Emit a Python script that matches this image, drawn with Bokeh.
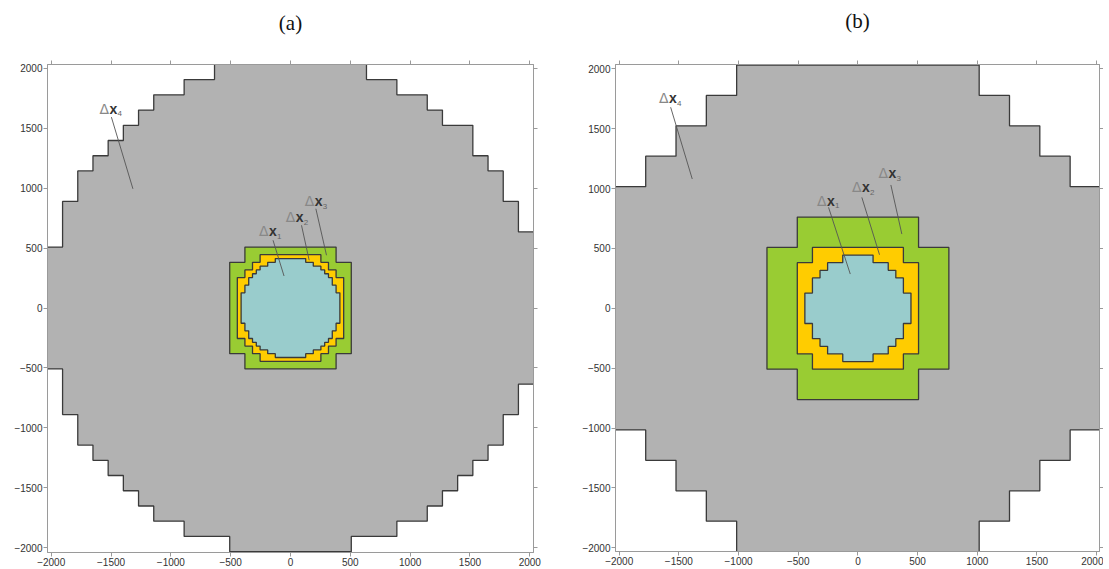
from bokeh.plotting import figure
from bokeh.models import LinearAxis, FixedTicker, Range1d
from bokeh.layouts import row
from bokeh.embed import file_html
from bokeh.resources import INLINE
from bokeh.core.properties import value

# ---------------- data ----------------
TICKS = [-2000, -1500, -1000, -500, 0, 500, 1000, 1500, 2000]

# staircase corners (x_end, height) in cell units, per quadrant (|x|, |y|)
A_GRAY_CELL = 127.0
A_GRAY_TR = [(5, 16), (7, 15), (9, 14), (10, 13), (12, 12), (13, 10), (14, 9), (15, 7), (16, 5)]
A_GRAY_BR = [(4, 16), (7, 15), (9, 14), (10, 13), (11, 12), (12, 11), (13, 10), (14, 9), (15, 7), (16, 5)]
A_GRAY_BL = [(4, 16), (7, 15), (9, 14), (10, 13), (11, 12), (12, 11), (13, 10), (14, 9), (15, 7), (16, 4)]
A_GRAY_TL = [(5, 16), (7, 15), (9, 14), (10, 13), (11, 12), (12, 11), (13, 10), (14, 9), (15, 7), (16, 4)]
A_GREEN_CELL = 127.0
A_GREEN = [(3, 4), (4, 3)]
A_YELLOW_CELL = 63.5
A_YELLOW = [(4, 7), (5, 6), (6, 5), (7, 4)]
A_CYAN_CELL = 31.75
A_CYAN = [(4, 13), (6, 12), (8, 11), (9, 10), (10, 9), (11, 8), (12, 6), (13, 4)]

B_GRAY_CELL = 254.0
B_GRAY = [(4, 8), (5, 7), (6, 6), (7, 5), (8, 4)]
B_GREEN_CELL = 254.0
B_GREEN = [(2, 3), (3, 2)]
B_YELLOW_CELL = 127.0
B_YELLOW = [(3, 4), (4, 3)]
B_CYAN_CELL = 63.5
B_CYAN = [(2, 7), (4, 6), (5, 5), (6, 4), (7, 2)]

# labels: subscripts, label anchor and leader line ends (data coords)
A_LAB_SUB = ["4", "1", "2", "3"]
A_LAB_X = [-1596, -263, -39, 120]
A_LAB_Y = [1660, 642, 759, 892]
A_LEAD_X0 = [-1497, -146, 92, 212]
A_LEAD_Y0 = [1592, 565, 690, 828]
A_LEAD_X1 = [-1317, -54, 156, 301]
A_LEAD_Y1 = [994, 267, 398, 440]

B_LAB_SUB = ["4", "1", "2", "3"]
B_LAB_X = [-1667, -343, -50, 172]
B_LAB_Y = [1756, 899, 1012, 1129]
B_LEAD_X0 = [-1569, -246, 33, 276]
B_LEAD_Y0 = [1679, 843, 926, 1030]
B_LEAD_X1 = [-1388, -64, 181, 368]
B_LEAD_Y1 = [1080, 286, 447, 620]

# ---------------- styles ----------------
C_GRAY = "#b2b2b2"
C_GREEN = "#99cc33"
C_YELLOW = "#ffcc00"
C_CYAN = "#99cccc"
C_EDGE = "#3a3a3a"
C_AXIS = "#9a9a9a"


def quad_path(corners, cell):
    pts = []
    prev = 0
    for xe, h in corners:
        pts.append((prev * cell, h * cell))
        pts.append((xe * cell, h * cell))
        prev = xe
    pts.append((prev * cell, 0.0))
    return pts


def polygon(tr, br, bl, tl, cell):
    p_tr = quad_path(tr, cell)
    p_br = [(x, -y) for x, y in reversed(quad_path(br, cell))]
    p_bl = [(-x, -y) for x, y in quad_path(bl, cell)]
    p_tl = [(-x, y) for x, y in reversed(quad_path(tl, cell))]
    pts = p_tr + p_br + p_bl + p_tl
    return [p[0] for p in pts], [p[1] for p in pts]


def style_axis(ax, labels=True):
    ax.ticker = FixedTicker(ticks=TICKS)
    ax.axis_line_color = C_AXIS
    ax.major_tick_line_color = C_AXIS
    ax.major_tick_in = 0
    ax.major_tick_out = 4
    ax.minor_tick_line_color = None
    if labels:
        ax.major_label_text_font = "Liberation Sans"
        ax.major_label_text_font_size = "10px"
        ax.major_label_text_color = "#333333"
        ax.major_label_standoff = 1
    else:
        ax.major_label_text_color = None
        ax.major_label_standoff = 0


def make_fig(xr, yr, title, mbl, mbr, mbt, fw, fh, title_standoff):
    p = figure(x_range=Range1d(*xr), y_range=Range1d(*yr),
               frame_width=fw, frame_height=fh,
               output_backend="svg", toolbar_location=None,
               min_border_left=mbl, min_border_right=mbr,
               min_border_top=mbt, min_border_bottom=0)
    p.xgrid.visible = False
    p.ygrid.visible = False
    p.outline_line_color = C_AXIS
    p.background_fill_color = "white"
    p.border_fill_color = "white"
    top = LinearAxis()
    right = LinearAxis()
    p.add_layout(top, "above")
    p.add_layout(right, "right")
    for ax in p.below + p.left:
        style_axis(ax, True)
    style_axis(top, False)
    style_axis(right, False)
    top.axis_label = title
    top.axis_label_text_font = "Liberation Serif"
    top.axis_label_text_font_size = "21px"
    top.axis_label_text_font_style = "normal"
    top.axis_label_text_color = "#111111"
    top.axis_label_standoff = title_standoff
    return p


def add_region(p, xs, ys, color):
    p.patch(xs, ys, fill_color=color, line_color=C_EDGE, line_width=1.3)


def add_labels(p, lx, ly, subs, x0, y0, x1, y1):
    p.segment(x0=x0, y0=y0, x1=x1, y1=y1, line_color="#555555", line_width=0.9)
    p.text(x=lx, y=ly, text=["\u0394"] * len(lx), text_font=value("DejaVu Sans"),
           text_font_size="14px", text_color="#888888",
           text_baseline="middle", text_align="left")
    p.text(x=lx, y=ly, text=["x"] * len(lx), text_font=value("Liberation Sans"),
           text_font_size="14px", text_font_style="bold", text_color="#333333",
           text_baseline="middle", text_align="left", x_offset=10)
    p.text(x=lx, y=ly, text=subs, text_font=value("Liberation Sans"),
           text_font_size="8px", text_color="#666666",
           text_baseline="middle", text_align="left", x_offset=18, y_offset=5)


# ---------------- panel (a) ----------------
pa = make_fig((-2031, 2031), (-2039, 2031), "(a)", 47, 12, 62, 486, 488, 26)
gx, gy = polygon(A_GRAY_TR, A_GRAY_BR, A_GRAY_BL, A_GRAY_TL, A_GRAY_CELL)
add_region(pa, gx, gy, C_GRAY)
for corners, cell, col in [(A_GREEN, A_GREEN_CELL, C_GREEN),
                           (A_YELLOW, A_YELLOW_CELL, C_YELLOW),
                           (A_CYAN, A_CYAN_CELL, C_CYAN)]:
    xs, ys = polygon(corners, corners, corners, corners, cell)
    add_region(pa, xs, ys, col)
add_labels(pa, A_LAB_X, A_LAB_Y, A_LAB_SUB, A_LEAD_X0, A_LEAD_Y0, A_LEAD_X1, A_LEAD_Y1)

# ---------------- panel (b) ----------------
pb = make_fig((-2031, 2024), (-2031, 2036), "(b)", 70, 0, 64, 484, 487, 28)
for corners, cell, col in [(B_GRAY, B_GRAY_CELL, C_GRAY),
                           (B_GREEN, B_GREEN_CELL, C_GREEN),
                           (B_YELLOW, B_YELLOW_CELL, C_YELLOW),
                           (B_CYAN, B_CYAN_CELL, C_CYAN)]:
    xs, ys = polygon(corners, corners, corners, corners, cell)
    add_region(pb, xs, ys, col)
add_labels(pb, B_LAB_X, B_LAB_Y, B_LAB_SUB, B_LEAD_X0, B_LEAD_Y0, B_LEAD_X1, B_LEAD_Y1)

layout = row(pa, pb)
open("out.html", "w").write(file_html(layout, INLINE))
